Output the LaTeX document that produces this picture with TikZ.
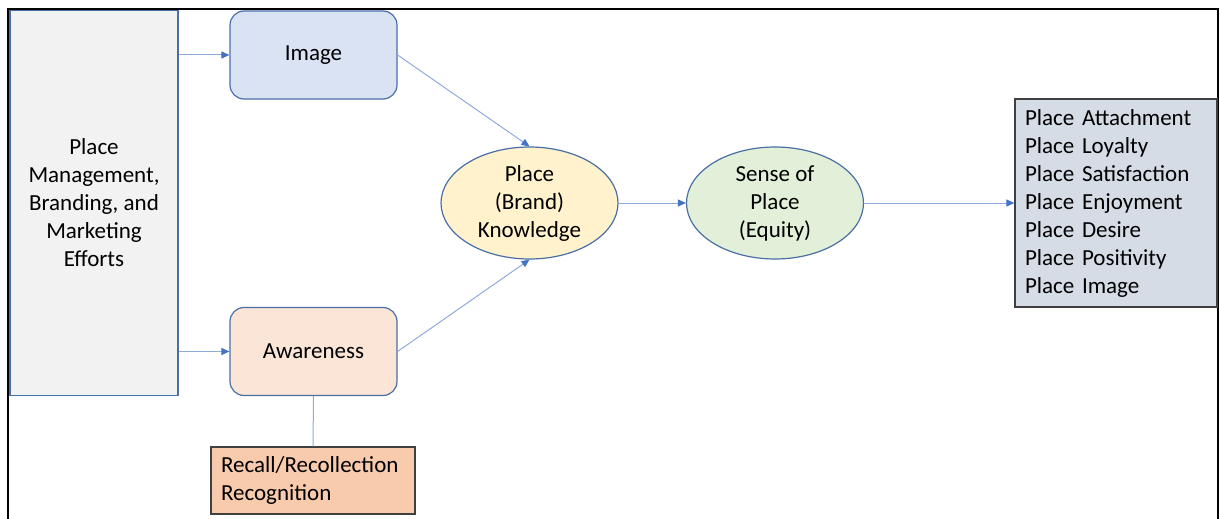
\documentclass[tikz,border=0pt]{standalone}
\usepackage{fontspec}
\setmainfont{Carlito}
\usetikzlibrary{shapes.geometric,arrows.meta}
\definecolor{boxblue}{HTML}{4A6FA5}
\definecolor{arrline}{HTML}{8FAADC}
\definecolor{arrtip}{HTML}{4472C4}
\definecolor{leftfill}{HTML}{F2F2F2}
\definecolor{imgfill}{HTML}{DAE3F3}
\definecolor{awfill}{HTML}{FBE5D6}
\definecolor{recfill}{HTML}{F8CBAD}
\definecolor{knowfill}{HTML}{FFF2CC}
\definecolor{sensefill}{HTML}{E2F0D9}
\definecolor{outfill}{HTML}{D6DCE5}
\definecolor{darkedge}{HTML}{404040}
\tikzset{
  txt/.style={font=\fontsize{23}{28}\selectfont, text=black},
  leftbox/.style={txt, draw=boxblue, line width=1.2pt, fill=leftfill, minimum width=168pt, minimum height=385pt, inner sep=0pt, align=center},
  roundbox/.style={txt, draw=boxblue, line width=1.2pt, rounded corners=14pt, minimum width=167pt, minimum height=88pt, inner sep=0pt, align=center},
  oval/.style={txt, ellipse, draw=boxblue, line width=1.2pt, minimum width=177pt, minimum height=112pt, inner sep=0pt, align=center},
  listbox/.style={txt, draw=darkedge, line width=1.2pt, inner xsep=10pt, inner ysep=0pt, align=left},
  conn/.style={draw=arrline, line width=1pt, -{Triangle[length=8pt,width=7pt,fill=arrtip,color=arrtip]}},
  plain/.style={draw=arrline, line width=1pt},
  frame/.style={draw=black, line width=2.5pt}
}
\begin{document}
\begin{tikzpicture}[x=1pt,y=-1pt]
\useasboundingbox (0,0) rectangle (1220,519);
\draw[frame] (8,519) -- (8,9) -- (1218,9) -- (1218,519);
\node[leftbox] (efforts) at (94,203) {Place\\Management,\\Branding, and\\Marketing\\Efforts};
\node[roundbox, fill=imgfill] (image) at (313.5,55) {Image};
\node[roundbox, fill=awfill] (aware) at (313.5,351.5) {Awareness};
\node[listbox, fill=recfill, text width=184pt, minimum height=67pt] (recall) at (313,480.5) {Recall/Recollection\\Recognition};
\node[oval, fill=knowfill] (know) at (529.5,203) {Place\\(Brand)\\Knowledge};
\node[oval, fill=sensefill] (sense) at (775,203) {Sense of\\Place\\(Equity)};
\node[listbox, fill=outfill, text width=182pt, minimum height=208pt] (out) at (1116,203) {Place Attachment\\Place Loyalty\\Place Satisfaction\\Place Enjoyment\\Place Desire\\Place Positivity\\Place Image};
\draw[conn] (efforts.east |- image.west) -- (image.west);
\draw[conn] (efforts.east |- aware.west) -- (aware.west);
\draw[conn] (image.east) -- (know.north);
\draw[conn] (aware.east) -- (know.south);
\draw[conn] (know.east) -- (sense.west);
\draw[conn] (sense.east) -- (out.west);
\draw[plain] (aware.south) -- (recall.north);
\end{tikzpicture}
\end{document}
